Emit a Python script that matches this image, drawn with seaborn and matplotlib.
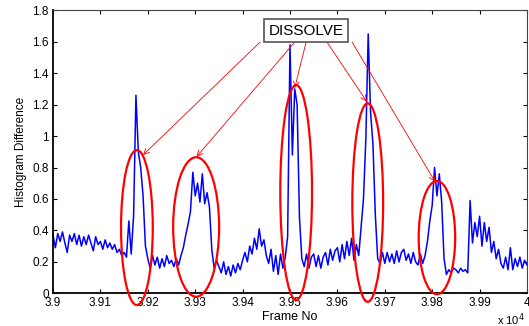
import numpy as np
import pandas as pd
import matplotlib
matplotlib.use('Agg')
import matplotlib.pyplot as plt
import seaborn as sns
from matplotlib.patches import Ellipse
from matplotlib.ticker import FuncFormatter

# frame numbers (every 5th frame) and histogram difference
frame_start, frame_step = 39000, 5
hist_diff = [
    0.37, 0.29, 0.38, 0.33, 0.39, 0.32, 0.26, 0.37, 0.33, 0.38,
    0.31, 0.37, 0.30, 0.36, 0.31, 0.37, 0.32, 0.27, 0.36, 0.31,
    0.33, 0.28, 0.34, 0.29, 0.32, 0.28, 0.31, 0.26, 0.28, 0.24,
    0.26, 0.23, 0.46, 0.25, 0.49, 1.26, 0.90, 0.80, 0.62, 0.30,
    0.22, 0.16, 0.24, 0.18, 0.23, 0.16, 0.22, 0.17, 0.24, 0.19,
    0.21, 0.17, 0.22, 0.18, 0.24, 0.29, 0.37, 0.44, 0.52, 0.77,
    0.62, 0.70, 0.58, 0.76, 0.57, 0.64, 0.55, 0.28, 0.16, 0.21,
    0.17, 0.13, 0.20, 0.12, 0.17, 0.11, 0.18, 0.13, 0.19, 0.15,
    0.21, 0.26, 0.20, 0.30, 0.25, 0.35, 0.28, 0.41, 0.30, 0.34,
    0.24, 0.19, 0.28, 0.14, 0.24, 0.12, 0.25, 0.16, 0.23, 0.36,
    1.58, 0.88, 1.30, 1.20, 0.48, 0.22, 0.17, 0.25, 0.16, 0.23,
    0.25, 0.17, 0.24, 0.16, 0.23, 0.26, 0.18, 0.28, 0.21, 0.27,
    0.29, 0.20, 0.31, 0.22, 0.33, 0.24, 0.35, 0.21, 0.31, 0.24,
    0.42, 0.60, 0.98, 1.65, 1.15, 0.95, 0.50, 0.22, 0.19, 0.26,
    0.19, 0.26, 0.20, 0.25, 0.19, 0.27, 0.20, 0.26, 0.28, 0.21,
    0.25, 0.19, 0.26, 0.20, 0.18, 0.25, 0.19, 0.24, 0.33, 0.46,
    0.56, 0.80, 0.62, 0.76, 0.58, 0.22, 0.12, 0.15, 0.13, 0.16,
    0.15, 0.13, 0.16, 0.14, 0.15, 0.13, 0.59, 0.32, 0.45, 0.36,
    0.49, 0.30, 0.45, 0.33, 0.42, 0.26, 0.33, 0.22, 0.28, 0.19,
    0.16, 0.23, 0.15, 0.29, 0.15, 0.22, 0.17, 0.23, 0.16, 0.21,
    0.18,
]
frames = frame_start + frame_step * np.arange(len(hist_diff))
df = pd.DataFrame({'frame': frames, 'diff': hist_diff})

# dissolve regions: (centre frame, centre value, width in frames, height)
dissolve_regions = [
    (39177, 0.418, 67, 0.986),
    (39302, 0.422, 97, 0.887),
    (39513, 0.641, 67, 1.367),
    (39664, 0.577, 65, 1.262),
    (39810, 0.354, 77, 0.720),
]
# arrows from the label box to the top of each region: (start frame, end frame, end value)
arrow_targets = [
    (39437, 39190, 0.880),
    (39510, 39303, 0.869),
    (39534, 39510, 1.306),
    (39578, 39662, 1.219),
    (39631, 39806, 0.710),
]
label_x, label_y, arrow_y0 = 39534, 1.670, 1.598

plt.rcParams['font.family'] = ['Liberation Sans', 'DejaVu Sans']

fig = plt.figure(figsize=(5.29, 3.26), dpi=100)
ax = fig.add_axes([0.1002, 0.1003, 0.8960, 0.8681])

sns.lineplot(data=df, x='frame', y='diff', ax=ax, color='#0000ff', lw=1.1)

ax.set_xlim(39000, 40000)
ax.set_ylim(0, 1.8)
ax.set_xticks(np.arange(39000, 40001, 100))
ax.set_yticks(np.arange(0, 1.81, 0.2))
ax.xaxis.set_major_formatter(FuncFormatter(lambda v, p: f'{v / 1e4:g}'))
ax.yaxis.set_major_formatter(FuncFormatter(lambda v, p: f'{v:g}'))
ax.tick_params(direction='in', length=3, width=0.8, labelsize=8.5,
               top=True, right=True, pad=3)
ax.set_xlabel('Frame No', fontsize=9, labelpad=1)
ax.set_ylabel('Histogram Difference', fontsize=8.5, labelpad=4)

for side in ['left', 'bottom']:
    ax.spines[side].set_linewidth(1.3)
for side in ['top', 'right']:
    ax.spines[side].set_linewidth(0.8)
    ax.spines[side].set_color('#444444')

for cx, cy, w, h in dissolve_regions:
    ax.add_patch(Ellipse((cx, cy), w, h, fill=False, edgecolor='red',
                         lw=1.6, clip_on=False, zorder=5))

for x0, x1, y1 in arrow_targets:
    ax.annotate('', xy=(x1, y1), xytext=(x0, arrow_y0),
                arrowprops=dict(arrowstyle='->', color='red', lw=0.6,
                                shrinkA=0, shrinkB=0), zorder=6)

ax.text(label_x, label_y, 'DISSOLVE', fontsize=11, ha='center', va='center',
        bbox=dict(boxstyle='square,pad=0.3', fc='white', ec='#555555', lw=1.2),
        zorder=7)

fig.text(0.94, -0.005, 'x 10$^4$', fontsize=8, ha='left', va='bottom')

plt.savefig('out.png', dpi=100)
